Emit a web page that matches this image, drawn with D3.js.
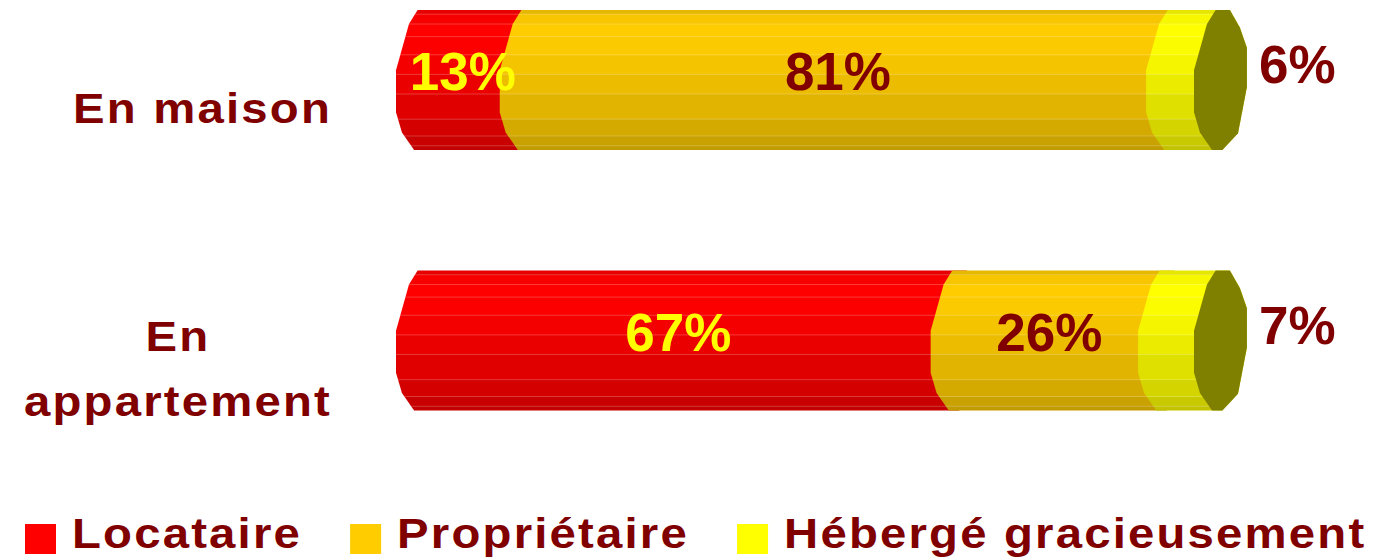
<!DOCTYPE html>
<html>
<head>
<meta charset="utf-8">
<script src="https://cdnjs.cloudflare.com/ajax/libs/d3/7.8.5/d3.min.js"></script>
<style>
  body { margin: 0; background: #fff; }
  svg { display: block; font-family: "Liberation Sans", Arial, sans-serif; font-weight: bold; }
</style>
</head>
<body>
<div class="chart"></div>
<script>
const categories = ["En maison", "En appartement"];
const seriesNames = ["Locataire", "Propriétaire", "Hébergé gracieusement"];
const locataire = [13, 67];
const proprietaire = [81, 26];
const heberge = [6, 7];
const seriesColors = ["#ff0000", "#ffcc00", "#ffff00"];
const labelColors = ["#ffff00", "#800000", "#800000"];

const w = 1377, h = 560,
  maroon = "#800000",
  rx = 27, ry = 70,
  stretch = 1.1, spacing = 2;

const svg = d3.select(".chart").append("svg")
  .attr("width", w)
  .attr("height", h);

const x = d3.scaleLinear().domain([0, 100]).range([423, 1221]);
const y = d3.scalePoint().domain(categories).range([80, 340.5]);

// outline of the cylinder section, in units of rx / ry
const leftChain = [[-0.2, -1], [-0.52, -0.8], [-1, -0.14], [-1, 0.46], [-0.78, 0.75], [-0.33, 1]];
const rightChain = [[0.05, 1], [0.63, 0.76], [0.96, 0.1], [0.96, -0.46], [0.7, -0.75], [0.33, -1]];

const pt = (cx, cy) => p => [cx + p[0] * rx, cy + p[1] * ry];
const body = (x0, x1, cy) =>
  "M" + leftChain.map(pt(x0, cy)).join("L") + "L" + rightChain.map(pt(x1, cy)).join("L") + "Z";
const cap = (cx, cy) =>
  "M" + rightChain.slice().reverse().map(pt(cx, cy)).join("L") + "L" +
  leftChain.slice().reverse().map(pt(cx, cy)).join("L") + "Z";

// facet bands (shading)
const bandEdges = [0, 0.03, 0.1, 0.19, 0.32, 0.46, 0.6, 0.78, 0.9, 0.97, 1];
const bandShade = [0.9, 0.97, 1.0, 0.99, 0.96, 0.92, 0.88, 0.83, 0.79, 0.76];
const defs = svg.append("defs");
seriesColors.forEach((c, i) => {
  const g = defs.append("linearGradient")
    .attr("id", "grad" + i)
    .attr("x1", 0).attr("y1", 0).attr("x2", 0).attr("y2", 1);
  const base = d3.rgb(c);
  bandShade.forEach((f, k) => {
    const col = d3.rgb(base.r * f, base.g * f, base.b * f).toString();
    g.append("stop").attr("offset", bandEdges[k]).attr("stop-color", col);
    g.append("stop").attr("offset", bandEdges[k + 1]).attr("stop-color", col);
  });
});

const stacked = d3.stack().keys([0, 1, 2])(
  categories.map((c, i) => ({ 0: locataire[i], 1: proprietaire[i], 2: heberge[i], cat: c }))
);

categories.forEach((cat, ci) => {
  const cy = y(cat);
  const g = svg.append("g");
  stacked.forEach((s, si) => {
    const d = s[ci];
    const x0 = x(d[0]), x1 = x(d[1]);
    const id = "clip" + ci + "_" + si;
    defs.append("clipPath").attr("id", id).append("path").attr("d", body(x0, x1, cy));
    g.append("path")
      .attr("d", body(x0, x1, cy))
      .attr("fill", "url(#grad" + si + ")");
    g.append("g")
      .attr("clip-path", "url(#" + id + ")")
      .selectAll("line")
      .data(bandEdges.slice(1, -1))
      .enter()
      .append("line")
      .attr("x1", x0 - rx).attr("x2", x1 + rx)
      .attr("y1", v => cy - ry + v * 2 * ry)
      .attr("y2", v => cy - ry + v * 2 * ry)
      .attr("stroke", "#fff")
      .attr("stroke-opacity", 0.22)
      .attr("stroke-width", 1);
  });
  g.append("path")
    .attr("d", cap(x(100), cy))
    .attr("fill", "#808000");

  // value labels
  stacked.forEach((s, si) => {
    const d = s[ci];
    const v = d[1] - d[0];
    const last = si === stacked.length - 1;
    g.append("text")
      .attr("x", last ? x(100) + 38 : x((d[0] + d[1]) / 2) - 12)
      .attr("y", cy + (last ? 3 : 10))
      .attr("text-anchor", last ? "start" : "middle")
      .attr("font-size", 53)
      .attr("fill", labelColors[si])
      .text(v + "%");
  });
});

// wide bold text, as in the original
function wideText(parent, tx, ty, anchor, str) {
  return parent.append("g")
    .attr("transform", "translate(" + tx + "," + ty + ") scale(" + stretch + ",1)")
    .append("text")
    .attr("font-size", 43)
    .attr("letter-spacing", spacing)
    .attr("text-anchor", anchor)
    .attr("fill", maroon)
    .text(str);
}

// category labels, wrapped, block right-aligned to the bars
const measure = svg.append("text").attr("font-size", 43).attr("letter-spacing", spacing);
const textW = s => { measure.text(s); return measure.node().getComputedTextLength() * stretch; };
categories.forEach(cat => {
  const words = cat.split(" ");
  let lines = [], line = [];
  words.forEach(word => {
    line.push(word);
    if (textW(line.join(" ")) > 330 && line.length > 1) {
      line.pop();
      lines.push(line.join(" "));
      line = [word];
    }
  });
  lines.push(line.join(" "));
  const blockW = d3.max(lines, textW);
  const cx = 332 - blockW / 2;
  const lh = 65;
  const mid = y(cat) + 28;
  const first = mid - (lines.length - 1) * lh / 2 + 15;
  lines.forEach((l, i) => wideText(svg, cx, first + i * lh, "middle", l));
});

// legend
const legend = svg.append("g");
let lx = 25;
seriesNames.forEach((name, i) => {
  legend.append("rect")
    .attr("x", lx).attr("y", 524)
    .attr("width", 31).attr("height", 30)
    .attr("fill", seriesColors[i]);
  wideText(legend, lx + 47, 548, "start", name);
  lx += 47 + textW(name) + 48;
});
measure.remove();
</script>
</body>
</html>
